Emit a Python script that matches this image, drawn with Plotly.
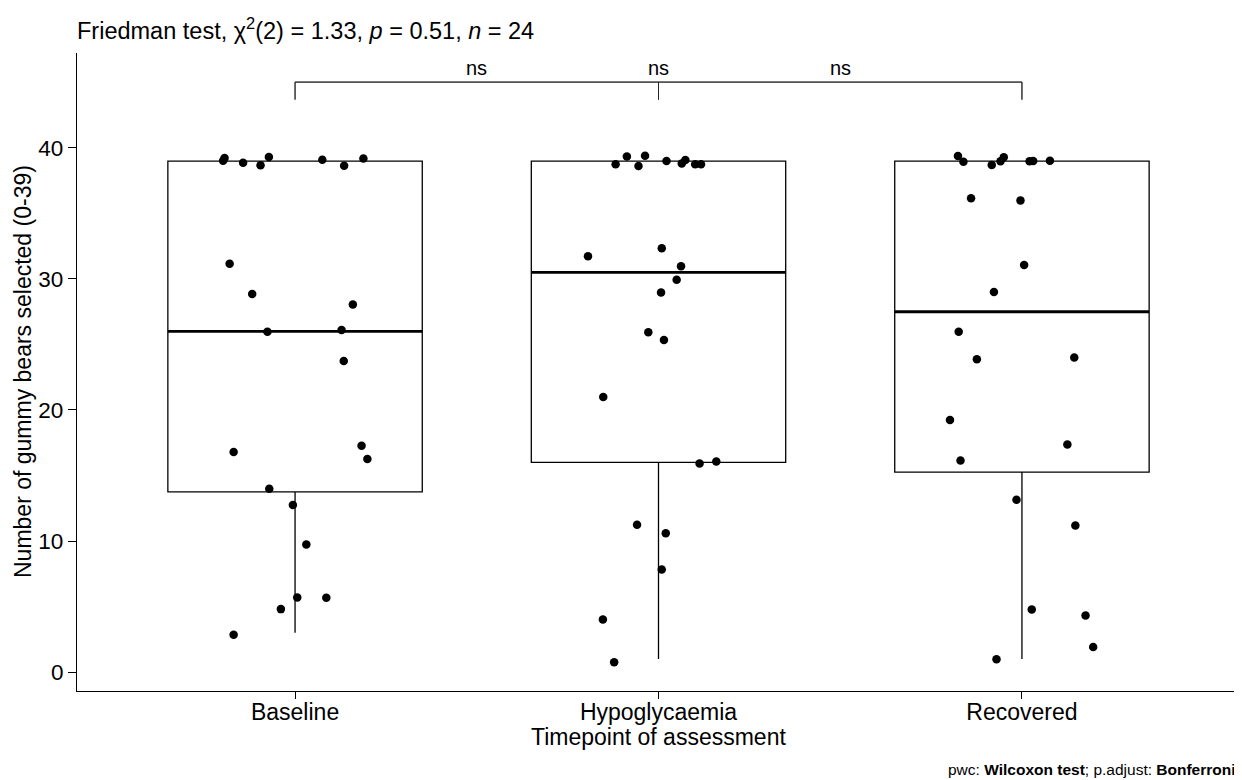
import plotly.graph_objects as go

# ---------------- data ----------------
categories = ["Baseline", "Hypoglycaemia", "Recovered"]

# box statistics (ggplot-style)
q1 = [13.75, 16.0, 15.25]
median = [26.0, 30.5, 27.5]
q3 = [39.0, 39.0, 39.0]
lower = [3.0, 1.0, 1.0]
upper = [39.0, 39.0, 39.0]

# jittered observations (values as displayed) and their horizontal jitter (category units)
baseline_y = [39.24, 39.03, 38.87, 38.68, 39.32, 39.10, 38.65, 39.19, 31.17, 28.86, 28.06, 25.97,
              26.10, 23.74, 16.79, 17.27, 16.26, 13.98, 12.74, 9.74, 5.69, 5.66, 4.80, 2.84]
baseline_jit = [-0.194, -0.198, -0.143, -0.095, -0.072, 0.075, 0.135, 0.188, -0.180, -0.118, 0.159, -0.076,
                0.128, 0.134, -0.169, 0.183, 0.199, -0.071, -0.006, 0.031, 0.006, 0.086, -0.039, -0.169]

hypo_y = [38.76, 39.35, 38.63, 39.40, 39.00, 38.81, 39.08, 38.76, 38.76, 31.73, 32.35, 30.97,
          29.94, 28.97, 25.94, 25.35, 21.00, 15.91, 16.07, 11.24, 10.60, 7.83, 4.00, 0.74]
hypo_jit = [-0.118, -0.087, -0.055, -0.037, 0.022, 0.064, 0.074, 0.101, 0.117, -0.194, 0.009, 0.062,
            0.050, 0.007, -0.028, 0.015, -0.152, 0.113, 0.159, -0.059, 0.020, 0.009, -0.153, -0.122]

recov_y = [39.38, 38.95, 38.71, 38.98, 39.30, 38.98, 39.00, 39.03, 36.16, 36.00, 31.06, 29.00,
           25.97, 23.87, 24.00, 19.23, 17.36, 16.15, 13.14, 11.19, 4.77, 4.32, 1.90, 0.97]
recov_jit = [-0.176, -0.161, -0.083, -0.059, -0.050, 0.021, 0.031, 0.077, -0.140, -0.004, 0.006, -0.077,
             -0.174, -0.124, 0.144, -0.198, 0.125, -0.169, -0.015, 0.147, 0.027, 0.175, 0.196, -0.070]

# pairwise comparisons
bracket_g1 = [0, 0, 1]
bracket_g2 = [1, 2, 2]
bracket_label = ["ns", "ns", "ns"]
bracket_y = 45.03

yticks = [0, 10, 20, 30, 40]

title_text = "Friedman test, χ<sup>2</sup>(2) = 1.33, <i>p</i> = 0.51, <i>n</i> = 24"
caption_text = "pwc: <b>Wilcoxon test</b>; p.adjust: <b>Bonferroni</b>"
xlab = "Timepoint of assessment"
ylab = "Number of gummy bears selected (0-39)"

# ---------------- style ----------------
FONT = "Liberation Sans, Arial, Helvetica, sans-serif"
BOX_W = 0.7
TIP = 1.34
OFF = 8  # page body margin in the browser

fig = go.Figure()

for i, c in enumerate(categories):
    fig.add_trace(go.Box(
        x=[i], q1=[q1[i]], median=[median[i]], q3=[q3[i]],
        lowerfence=[lower[i]], upperfence=[upper[i]],
        width=BOX_W, fillcolor="white",
        line=dict(color="black", width=1.3),
        whiskerwidth=0, boxpoints=False, showlegend=False, hoverinfo="skip",
    ))
    fig.add_trace(go.Scatter(
        x=[i - BOX_W / 2, i + BOX_W / 2], y=[median[i], median[i]],
        mode="lines", line=dict(color="black", width=2.8),
        showlegend=False, hoverinfo="skip",
    ))

groups_y = [baseline_y, hypo_y, recov_y]
groups_j = [baseline_jit, hypo_jit, recov_jit]
for i in range(len(categories)):
    fig.add_trace(go.Scatter(
        x=[i + j for j in groups_j[i]], y=groups_y[i],
        mode="markers", marker=dict(color="black", size=8.5),
        showlegend=False, hoverinfo="skip",
    ))

# brackets
for g1, g2, lab in zip(bracket_g1, bracket_g2, bracket_label):
    fig.add_trace(go.Scatter(
        x=[g1, g1, g2, g2], y=[bracket_y - TIP, bracket_y, bracket_y, bracket_y - TIP],
        mode="lines", line=dict(color="#222222", width=0.9),
        showlegend=False, hoverinfo="skip",
    ))
    fig.add_annotation(
        x=(g1 + g2) / 2, y=bracket_y, xref="x", yref="y", text=lab,
        showarrow=False, yanchor="bottom", yshift=1,
        font=dict(family=FONT, size=20, color="black"),
    )

# page coordinates of the reference (page is 1242x780, figure starts at OFF,OFF)
W, H = 1242 - OFF, 780 - OFF
ml, mr, mt, mb = 77 - OFF, 2, 53 - OFF, 780 - 691
pw, ph = W - ml - mr, H - mt - mb


def px_x(px):
    return (px - OFF - ml) / pw


def px_y(py):
    return 1 - (py - OFF - mt) / ph


fig.add_annotation(text=title_text, xref="paper", yref="paper",
                   x=px_x(75), y=px_y(29), xanchor="left", yanchor="middle",
                   showarrow=False, font=dict(family=FONT, size=23.5, color="black"))
fig.add_annotation(text=xlab, xref="paper", yref="paper",
                   x=0.5, y=px_y(737), xanchor="center", yanchor="middle",
                   showarrow=False, font=dict(family=FONT, size=23, color="black"))
fig.add_annotation(text=ylab, xref="paper", yref="paper", textangle=-90,
                   x=px_x(23), y=0.5, xanchor="center", yanchor="middle",
                   showarrow=False, font=dict(family=FONT, size=23, color="black"))
fig.add_annotation(text=caption_text, xref="paper", yref="paper",
                   x=px_x(1238), y=px_y(769), xanchor="right", yanchor="middle",
                   showarrow=False, font=dict(family=FONT, size=15.5, color="black"))

fig.update_layout(
    width=W, height=H,
    margin=dict(l=ml, r=mr, t=mt, b=mb),
    plot_bgcolor="white", paper_bgcolor="white",
    showlegend=False,
    xaxis=dict(range=[-0.6, 2.6], tickvals=list(range(len(categories))), ticktext=categories,
               showgrid=False, zeroline=False, showline=True, linecolor="black", linewidth=1.2,
               ticks="outside", ticklen=7, tickwidth=1.1, tickcolor="black",
               ticklabelstandoff=-7,
               tickfont=dict(family=FONT, size=23, color="black")),
    yaxis=dict(range=[-1.45, 47.25], tickvals=yticks,
               showgrid=False, zeroline=False, showline=True, linecolor="black", linewidth=1.2,
               ticks="outside", ticklen=8, tickwidth=1.1, tickcolor="black",
               tickfont=dict(family=FONT, size=22.5, color="black")),
)

fig.write_html("out.html")
